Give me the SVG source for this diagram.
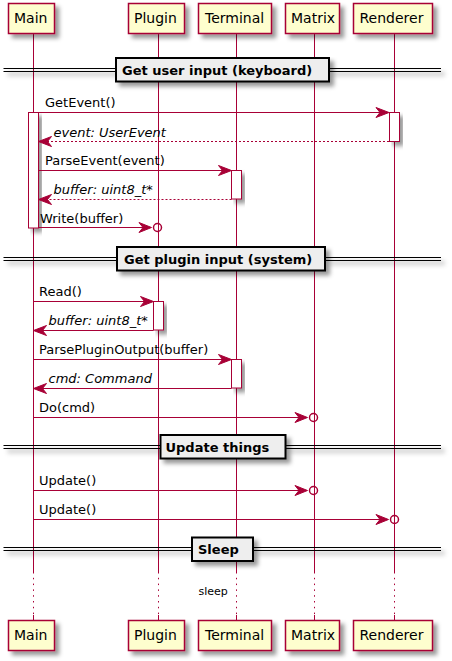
<svg xmlns="http://www.w3.org/2000/svg" width="452" height="661" viewBox="0 0 452 661">
<defs>
<filter id="sh" x="-20%" y="-20%" width="150%" height="180%">
<feGaussianBlur in="SourceAlpha" stdDeviation="2"/>
<feColorMatrix type="matrix" values="0 0 0 0 0  0 0 0 0 0  0 0 0 0 0  0 0 0 0.4 0"/>
<feOffset dx="4" dy="4" result="s"/>
<feBlend in="SourceGraphic" in2="s" mode="normal"/>
</filter>
</defs>
<style>
.pbox{fill:#FEFECE;stroke:#A80036;stroke-width:1.5;filter:url(#sh)}
.ptxt{font-family:"DejaVu Sans",sans-serif;font-size:14px;fill:#000}
.life{stroke:#A80036;stroke-width:1;fill:none}
.dot{stroke:#A80036;stroke-width:1;fill:none;stroke-dasharray:1.5,4.3}
.act{fill:#FFFFFF;stroke:#A80036;stroke-width:1;filter:url(#sh)}
.msg{stroke:#A80036;stroke-width:1;fill:none}
.dash{stroke:#A80036;stroke-width:1;fill:none;stroke-dasharray:2,2}
.head{fill:#A80036;stroke:#A80036;stroke-width:1}
.circ{fill:none;stroke:#A80036;stroke-width:1.5}
.mtxt{font-family:"DejaVu Sans",sans-serif;font-size:13px;fill:#000}
.rtxt{font-family:"DejaVu Sans",sans-serif;font-size:13px;font-style:italic;fill:#000}
.dbox{fill:#EEEEEE;stroke:#000;stroke-width:2}
.dline{stroke:#000;stroke-width:1;fill:none}
.dtxt{font-family:"DejaVu Sans",sans-serif;font-size:13px;font-weight:bold;fill:#000}
.stxt{font-family:"DejaVu Sans",sans-serif;font-size:11px;fill:#000}
</style>

<g id="lifelines">
<path class="life" d="M33.5,33.5V572M33.5,615V620.5M158.5,33.5V572M158.5,615V620.5M236.5,33.5V572M236.5,615V620.5M314.5,33.5V572M314.5,615V620.5M394.5,33.5V572M394.5,615V620.5"/>
<path class="dot" d="M33.5,572V615M158.5,572V615M236.5,572V615M314.5,572V615M394.5,572V615"/>
</g>

<g id="Main">
<rect class="pbox" x="8.5" y="3.5" width="46" height="30"/>
<text class="ptxt" x="14" y="23">Main</text>
<rect class="pbox" x="8.5" y="620.5" width="46" height="30"/>
<text class="ptxt" x="14" y="640">Main</text>
</g>
<g id="Plugin">
<rect class="pbox" x="128.5" y="3.5" width="56" height="30"/>
<text class="ptxt" x="134" y="23">Plugin</text>
<rect class="pbox" x="128.5" y="620.5" width="56" height="30"/>
<text class="ptxt" x="134" y="640">Plugin</text>
</g>
<g id="Terminal">
<rect class="pbox" x="198.5" y="3.5" width="73" height="30"/>
<text class="ptxt" x="205" y="23">Terminal</text>
<rect class="pbox" x="198.5" y="620.5" width="73" height="30"/>
<text class="ptxt" x="205" y="640">Terminal</text>
</g>
<g id="Matrix">
<rect class="pbox" x="285.5" y="3.5" width="54" height="30"/>
<text class="ptxt" x="291" y="23">Matrix</text>
<rect class="pbox" x="285.5" y="620.5" width="54" height="30"/>
<text class="ptxt" x="291" y="640">Matrix</text>
</g>
<g id="Renderer">
<rect class="pbox" x="353.5" y="3.5" width="79" height="30"/>
<text class="ptxt" x="359.5" y="23">Renderer</text>
<rect class="pbox" x="353.5" y="620.5" width="79" height="30"/>
<text class="ptxt" x="359.5" y="640">Renderer</text>
</g>

<g id="div1">
<g filter="url(#sh)">
<path class="dline" d="M3.5,68.5H441M3.5,71.5H441"/>
<rect class="dbox" x="116" y="58" width="213" height="23.5"/>
</g>
<text class="dtxt" x="122" y="74.5">Get user input (keyboard)</text>
</g>
<g id="div2">
<g filter="url(#sh)">
<path class="dline" d="M3.5,257.5H441M3.5,260.5H441"/>
<rect class="dbox" x="117" y="247" width="208" height="23.5"/>
</g>
<text class="dtxt" x="124" y="263.5">Get plugin input (system)</text>
</g>
<g id="div3">
<g filter="url(#sh)">
<path class="dline" d="M3.5,445.5H441M3.5,448.5H441"/>
<rect class="dbox" x="160.5" y="435" width="125" height="23.5"/>
</g>
<text class="dtxt" x="165.5" y="451.5">Update things</text>
</g>
<g id="div4">
<g filter="url(#sh)">
<path class="dline" d="M3.5,547.5H441M3.5,550.5H441"/>
<rect class="dbox" x="192" y="537.5" width="61" height="23.5"/>
</g>
<text class="dtxt" x="198" y="554">Sleep</text>
</g>

<g id="activations">
<rect class="act" x="28.5" y="112.5" width="10" height="115.5"/>
<rect class="act" x="389.5" y="112.5" width="10" height="29"/>
<rect class="act" x="231.5" y="170.5" width="10" height="28.5"/>
<rect class="act" x="153.5" y="301.5" width="10" height="28.5"/>
<rect class="act" x="231.5" y="359.5" width="10" height="28.5"/>
</g>

<g id="connectors">
<line class="msg" x1="38.5" y1="112.5" x2="388" y2="112.5"/>
<polygon class="head" points="376,107.5 389,112.5 376,117.5 380,112.5"/>
<text class="mtxt" x="45" y="106.5">GetEvent()</text>

<line class="dash" x1="389" y1="141.5" x2="40" y2="141.5"/>
<polygon class="head" points="51.5,136.5 38.5,141.5 51.5,146.5 47.5,141.5"/>
<text class="rtxt" x="53.5" y="136.5">event: UserEvent</text>

<line class="msg" x1="38.5" y1="170.5" x2="230" y2="170.5"/>
<polygon class="head" points="218.5,165.5 231.5,170.5 218.5,175.5 222.5,170.5"/>
<text class="mtxt" x="45" y="165">ParseEvent(event)</text>

<line class="dash" x1="231.5" y1="199.5" x2="40" y2="199.5"/>
<polygon class="head" points="51.5,194.5 38.5,199.5 51.5,204.5 47.5,199.5"/>
<text class="rtxt" x="53.5" y="194">buffer: uint8_t*</text>

<line class="msg" x1="38.5" y1="227.5" x2="150" y2="227.5"/>
<polygon class="head" points="139,222.5 151.5,227.5 139,232.5 143,227.5"/>
<circle class="circ" cx="157.5" cy="227.5" r="4"/>
<text class="mtxt" x="40" y="222.5">Write(buffer)</text>

<line class="msg" x1="33.5" y1="301.5" x2="152" y2="301.5"/>
<polygon class="head" points="140.5,296.5 153.5,301.5 140.5,306.5 144.5,301.5"/>
<text class="mtxt" x="39" y="295.5">Read()</text>

<line class="msg" x1="153.5" y1="330.5" x2="35" y2="330.5"/>
<polygon class="head" points="46.5,325.5 33.5,330.5 46.5,335.5 42.5,330.5"/>
<text class="rtxt" x="48.5" y="324.5">buffer: uint8_t*</text>

<line class="msg" x1="33.5" y1="359.5" x2="230" y2="359.5"/>
<polygon class="head" points="218.5,354.5 231.5,359.5 218.5,364.5 222.5,359.5"/>
<text class="mtxt" x="39" y="353.5">ParsePluginOutput(buffer)</text>

<line class="msg" x1="231.5" y1="388.5" x2="35" y2="388.5"/>
<polygon class="head" points="46.5,383.5 33.5,388.5 46.5,393.5 42.5,388.5"/>
<text class="rtxt" x="48.5" y="382.5">cmd: Command</text>

<line class="msg" x1="33.5" y1="417.5" x2="306" y2="417.5"/>
<polygon class="head" points="295,412.5 307.5,417.5 295,422.5 299,417.5"/>
<circle class="circ" cx="313.5" cy="417.5" r="4"/>
<text class="mtxt" x="39" y="411.5">Do(cmd)</text>

<line class="msg" x1="33.5" y1="490.5" x2="306" y2="490.5"/>
<polygon class="head" points="295,485.5 307.5,490.5 295,495.5 299,490.5"/>
<circle class="circ" cx="313.5" cy="490.5" r="4"/>
<text class="mtxt" x="39" y="484.5">Update()</text>

<line class="msg" x1="33.5" y1="519.5" x2="387" y2="519.5"/>
<polygon class="head" points="376,514.5 388.5,519.5 376,524.5 380,519.5"/>
<circle class="circ" cx="394.5" cy="519.5" r="4"/>
<text class="mtxt" x="39" y="513.5">Update()</text>
</g>

<text class="stxt" x="198.5" y="595">sleep</text>
</svg>
